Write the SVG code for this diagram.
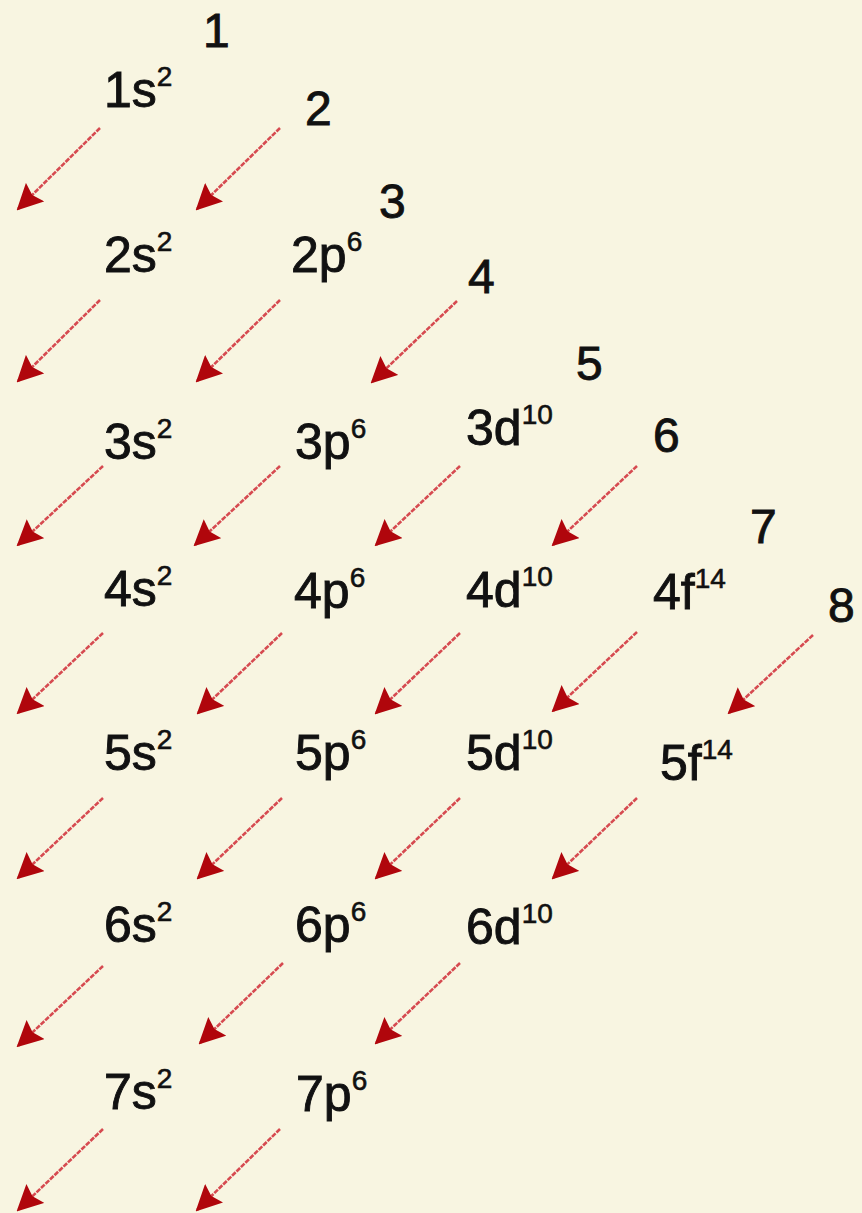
<svg xmlns="http://www.w3.org/2000/svg" width="862" height="1213" viewBox="0 0 862 1213">
<style>
.lbl{font-family:"Liberation Sans",Arial,sans-serif;font-size:50px;fill:#111;stroke:#111;stroke-width:0.9px;}
.sup{font-size:28px;stroke-width:0.6px;}
.num{font-family:"Liberation Sans",Arial,sans-serif;font-size:48px;fill:#111;stroke:#111;stroke-width:0.9px;}
.arr{stroke:#d64a50;stroke-width:2.6;stroke-dasharray:5 1.2;fill:none;marker-end:url(#ah);}
</style>
<defs>
<marker id="ah" viewBox="0 0 26 26" refX="24" refY="13" markerWidth="26" markerHeight="26" orient="auto" markerUnits="userSpaceOnUse">
<path d="M0,0 L26,13 L0,26 L4,13 Z" fill="#b0060c"/>
</marker>
</defs>
<rect width="862" height="1213" fill="#f8f5e1"/>
<g id="numbers">
<text class="num" x="203" y="47">1</text>
<text class="num" x="305" y="125">2</text>
<text class="num" x="379" y="218">3</text>
<text class="num" x="468" y="293">4</text>
<text class="num" x="576" y="380">5</text>
<text class="num" x="653" y="452">6</text>
<text class="num" x="750" y="543">7</text>
<text class="num" x="828" y="622">8</text>
</g>
<g id="n1s"><text class="lbl" x="104" y="107">1s<tspan class="sup" dy="-21">2</tspan></text></g>
<g id="n2s"><text class="lbl" x="104" y="272">2s<tspan class="sup" dy="-21">2</tspan></text></g>
<g id="n2p"><text class="lbl" x="291" y="272">2p<tspan class="sup" dy="-21">6</tspan></text></g>
<g id="n3s"><text class="lbl" x="104" y="459">3s<tspan class="sup" dy="-21">2</tspan></text></g>
<g id="n3p"><text class="lbl" x="295" y="459">3p<tspan class="sup" dy="-21">6</tspan></text></g>
<g id="n3d"><text class="lbl" x="466" y="445">3d<tspan class="sup" dy="-21">10</tspan></text></g>
<g id="n4s"><text class="lbl" x="104" y="606">4s<tspan class="sup" dy="-21">2</tspan></text></g>
<g id="n4p"><text class="lbl" x="294" y="608">4p<tspan class="sup" dy="-21">6</tspan></text></g>
<g id="n4d"><text class="lbl" x="466" y="607">4d<tspan class="sup" dy="-21">10</tspan></text></g>
<g id="n4f"><text class="lbl" x="653" y="609">4f<tspan class="sup" dy="-21">14</tspan></text></g>
<g id="n5s"><text class="lbl" x="104" y="770">5s<tspan class="sup" dy="-21">2</tspan></text></g>
<g id="n5p"><text class="lbl" x="295" y="770">5p<tspan class="sup" dy="-21">6</tspan></text></g>
<g id="n5d"><text class="lbl" x="466" y="770">5d<tspan class="sup" dy="-21">10</tspan></text></g>
<g id="n5f"><text class="lbl" x="660" y="780">5f<tspan class="sup" dy="-21">14</tspan></text></g>
<g id="n6s"><text class="lbl" x="104" y="942">6s<tspan class="sup" dy="-21">2</tspan></text></g>
<g id="n6p"><text class="lbl" x="295" y="942">6p<tspan class="sup" dy="-21">6</tspan></text></g>
<g id="n6d"><text class="lbl" x="466" y="944">6d<tspan class="sup" dy="-21">10</tspan></text></g>
<g id="n7s"><text class="lbl" x="104" y="1109">7s<tspan class="sup" dy="-21">2</tspan></text></g>
<g id="n7p"><text class="lbl" x="296" y="1111">7p<tspan class="sup" dy="-21">6</tspan></text></g>
<g id="connectors">
<line class="arr" x1="100" y1="128" x2="18" y2="209"/>
<line class="arr" x1="280" y1="128" x2="197" y2="209"/>
<line class="arr" x1="100" y1="300" x2="18" y2="381"/>
<line class="arr" x1="280" y1="300" x2="197" y2="381"/>
<line class="arr" x1="457" y1="301" x2="372" y2="382"/>
<line class="arr" x1="103" y1="466" x2="18" y2="545"/>
<line class="arr" x1="280" y1="466" x2="195" y2="545"/>
<line class="arr" x1="460" y1="466" x2="376" y2="545"/>
<line class="arr" x1="637" y1="466" x2="553" y2="545"/>
<line class="arr" x1="103" y1="633" x2="18" y2="713"/>
<line class="arr" x1="282" y1="633" x2="198" y2="713"/>
<line class="arr" x1="460" y1="633" x2="376" y2="713"/>
<line class="arr" x1="637" y1="632" x2="553" y2="711"/>
<line class="arr" x1="813" y1="635" x2="729" y2="713"/>
<line class="arr" x1="103" y1="798" x2="18" y2="878"/>
<line class="arr" x1="282" y1="798" x2="198" y2="878"/>
<line class="arr" x1="460" y1="798" x2="376" y2="878"/>
<line class="arr" x1="637" y1="798" x2="553" y2="878"/>
<line class="arr" x1="103" y1="966" x2="18" y2="1046"/>
<line class="arr" x1="283" y1="963" x2="200" y2="1043"/>
<line class="arr" x1="460" y1="963" x2="376" y2="1043"/>
<line class="arr" x1="103" y1="1129" x2="18" y2="1210"/>
<line class="arr" x1="280" y1="1129" x2="197" y2="1210"/>
</g>
</svg>
